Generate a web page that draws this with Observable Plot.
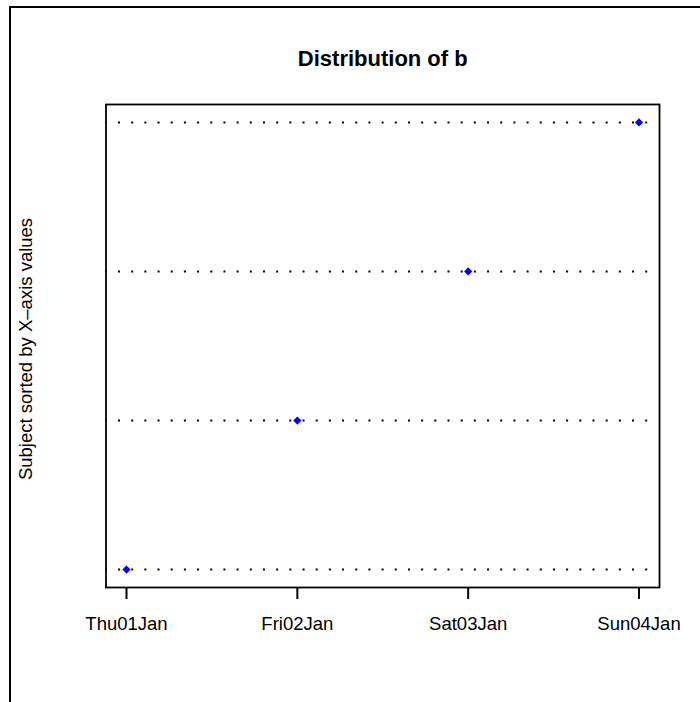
<!DOCTYPE html>
<html>
<head>
<meta charset="utf-8">
<script src="https://cdn.jsdelivr.net/npm/d3@7"></script>
<script src="https://cdn.jsdelivr.net/npm/@observablehq/plot@0.6"></script>
<style>
  html, body { margin: 0; padding: 0; background: #fff; overflow: hidden; width: 700px; height: 702px; }
  #wrap { position: relative; width: 700px; height: 702px; }
  #border { position: absolute; left: 9px; top: 6px; width: 800px; height: 800px; border: 2.5px solid #000; pointer-events: none; }
  #chart { position: absolute; left: 0; top: 0; }
</style>
</head>
<body>
<div id="wrap"><div id="chart"></div><div id="border"></div></div>
<script>
const subjects = [1, 2, 3, 4];
const dateStrings = ["1970-01-01", "1970-01-02", "1970-01-03", "1970-01-04"];
const titleText = "Distribution of b";
const yLabelText = "Subject sorted by X\u2013axis values";

const dates = dateStrings.map(s => new Date(s + "T00:00:00Z"));
const data = subjects.map((s, i) => ({subject: s, date: dates[i]}));

const t0 = +dates[0], t1 = +dates[dates.length - 1];
const ext = (t1 - t0) * 0.04;
const xDomain = [new Date(t0 - ext), new Date(t1 + ext)];
const y0 = d3.min(subjects), y1 = d3.max(subjects);
const yExt = (y1 - y0) * 0.04;
const yDomain = [y0 - yExt, y1 + yExt];

const fmt = d3.utcFormat("%a%d%b");
const font = "Liberation Sans, Arial, Helvetica, sans-serif";

const chart = Plot.plot({
  width: 700,
  height: 702,
  marginLeft: 105.5,
  marginRight: 41,
  marginTop: 104,
  marginBottom: 115,
  style: {fontFamily: font, background: "transparent"},
  x: {type: "utc", domain: xDomain},
  y: {domain: yDomain},
  marks: [
    Plot.ruleY(subjects, {
      y: d => d,
      stroke: "#000",
      strokeWidth: 2,
      strokeDasharray: "2 11.18",
      strokeDashoffset: -12.5,
      insetRight: 6
    }),
    Plot.dot(data, {
      x: "date",
      y: "subject",
      symbol: "diamond2",
      r: 3.7,
      fill: "#0000ff",
      stroke: "none"
    }),
    Plot.frame({stroke: "#000", strokeWidth: 1.8}),
    Plot.axisX({
      ticks: dates,
      tickFormat: fmt,
      tickSize: 12,
      tickPadding: 17,
      strokeWidth: 2,
      fontSize: 18.5,
      fill: "#000",
      label: null
    }),
    Plot.axisY({ticks: [], label: null}),
    Plot.text([titleText], {
      frameAnchor: "top",
      dy: -39,
      text: d => d,
      fontSize: 22,
      fontWeight: "bold",
      fill: "#000",
      lineAnchor: "bottom"
    }),
    Plot.text([yLabelText], {
      frameAnchor: "left",
      textAnchor: "middle",
      dx: -80,
      dy: 3,
      rotate: -90,
      text: d => d,
      fontSize: 18.5,
      fill: "#000"
    })
  ]
});
document.getElementById("chart").appendChild(chart);
</script>
</body>
</html>
